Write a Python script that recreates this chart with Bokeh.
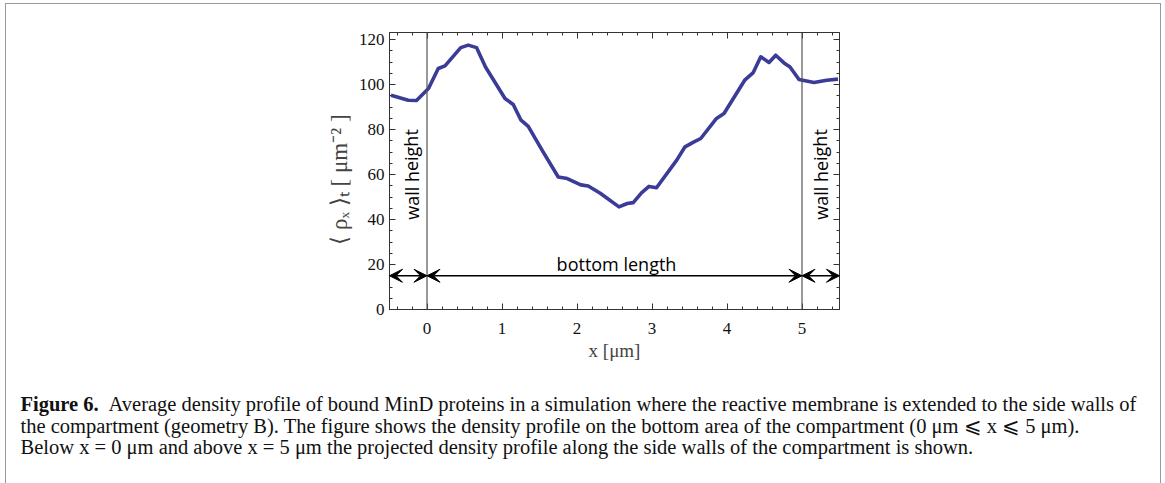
from bokeh.plotting import figure
from bokeh.layouts import column
from bokeh.models import (LinearAxis, Range1d, Label, Arrow, VeeHead, Span,
                          FixedTicker, ColumnDataSource)
from bokeh.embed import file_html
from bokeh.resources import INLINE

# ---- data ----
x_um = [-0.48, -0.25, -0.14, 0.02, 0.15, 0.24, 0.45, 0.55, 0.66, 0.78, 1.04, 1.15,
        1.25, 1.35, 1.54, 1.75, 1.87, 2.05, 2.15, 2.31, 2.56, 2.67, 2.75, 2.86,
        2.96, 3.06, 3.33, 3.44, 3.56, 3.65, 3.86, 3.96, 4.24, 4.35, 4.45, 4.56,
        4.65, 4.76, 4.84, 4.96, 5.16, 5.33, 5.48]
density = [95.2, 93.0, 92.9, 98.2, 107.1, 108.3, 116.4, 117.5, 116.4, 107.8, 93.8, 91.1,
           84.3, 81.4, 70.5, 58.9, 58.2, 55.4, 54.9, 51.7, 45.6, 47.1, 47.5, 51.8,
           54.7, 54.1, 66.4, 72.3, 74.5, 76.0, 84.9, 87.1, 102.1, 105.3, 112.3, 109.8,
           113.0, 109.6, 107.8, 102.2, 100.9, 101.9, 102.4]

x_ticks = [0, 1, 2, 3, 4, 5]
x_minor = [round(-0.4 + 0.2 * i, 1) for i in range(30)]
y_ticks = [0, 20, 40, 60, 80, 100, 120]
y_minor = list(range(0, 125, 5))
wall_x = [0, 5]
arrow_x0 = [-0.5, 0, 5]
arrow_x1 = [0, 5, 5.5]
arrow_y = [15, 15, 15]
wall_label = "wall height"
bottom_label = "bottom length"
x_title = "x [μm]"
y_title = "⟨ ρₓ ⟩ₜ    [ μm⁻² ]"
caption_bold = "Figure 6."
caption_lines = [
    "Average density profile of bound MinD proteins in a simulation where the reactive membrane is extended to the side walls of",
    "the compartment (geometry B). The figure shows the density profile on the bottom area of the compartment (0 μm ⩽ x ⩽ 5 μm).",
    "Below x = 0 μm and above x = 5 μm the projected density profile along the side walls of the compartment is shown.",
]

# page geometry (content box starts at page x=6, y=4 because of margin+border)
OX, OY = 6, 4
CW = 1154
TOP_H = 380
CAP_H = 483 - OY - TOP_H
FL, FR, FT, FB = 389 - OX, 839 - OX, 32 - OY, 309 - OY

xr = Range1d(-0.5, 5.5)
yr = Range1d(0, (FB - FT) / 2.25)

p = figure(width=CW, height=TOP_H, x_range=xr, y_range=yr, output_backend="svg",
           toolbar_location=None, min_border_left=FL, min_border_right=CW - FR,
           min_border_top=FT, min_border_bottom=TOP_H - FB, x_axis_location=None,
           y_axis_location=None)
p.frame_align = False
p.grid.visible = False
p.outline_line_color = "#333333"
p.background_fill_color = "white"
p.border_fill_color = "white"


def px2x(px):
    return -0.5 + (px - OX - FL) / 75.0


def py2y(py):
    return (FB - (py - OY)) / 2.25


serif = "Liberation Serif"


def style_axis(ax):
    ax.axis_line_color = "#333333"
    ax.major_tick_line_color = "#333333"
    ax.minor_tick_line_color = "#333333"
    ax.major_tick_in = 6
    ax.major_tick_out = 0
    ax.minor_tick_in = 3
    ax.minor_tick_out = 0
    ax.major_label_text_font = serif
    ax.major_label_text_font_size = "17px"
    ax.major_label_text_color = "#111111"


bx = LinearAxis(ticker=FixedTicker(ticks=x_ticks, minor_ticks=x_minor), axis_label=x_title)
style_axis(bx)
bx.major_label_standoff = 13
bx.axis_label_text_font = serif
bx.axis_label_text_font_style = "normal"
bx.axis_label_text_font_size = "19px"
bx.axis_label_standoff = 3
p.add_layout(bx, "below")

ly = LinearAxis(ticker=FixedTicker(ticks=y_ticks, minor_ticks=y_minor), axis_label=y_title)
style_axis(ly)
ly.major_label_standoff = 5
ly.axis_label_text_font = serif
ly.axis_label_text_font_style = "normal"
ly.axis_label_text_font_size = "23px"
ly.axis_label_standoff = 4
p.add_layout(ly, "left")

tx = LinearAxis(ticker=FixedTicker(ticks=x_ticks, minor_ticks=x_minor),
                major_label_overrides={t: "" for t in x_ticks})
style_axis(tx)
p.add_layout(tx, "above")

ry = LinearAxis(ticker=FixedTicker(ticks=y_ticks, minor_ticks=y_minor),
                major_label_overrides={t: "" for t in y_ticks})
style_axis(ry)
p.add_layout(ry, "right")

for wx in wall_x:
    p.add_layout(Span(location=wx, dimension="height", line_color="#555555", line_width=1.2))

p.line(x_um, density, line_color="#3b3b98", line_width=3.6, line_join="round")

asrc = ColumnDataSource(dict(x0=arrow_x0, x1=arrow_x1, y=arrow_y))
p.add_layout(Arrow(source=asrc, x_start="x0", y_start="y", x_end="x1", y_end="y",
                   line_color="black", line_width=1.6,
                   start=VeeHead(size=13, fill_color="black", line_color="black", line_width=1),
                   end=VeeHead(size=13, fill_color="black", line_color="black", line_width=1)))

sans = "Open Sans"
for cx in (411, 820):
    p.add_layout(Label(x=px2x(cx), y=py2y(174), text=wall_label, angle=1.5708,
                       text_align="center", text_baseline="middle", text_font=sans,
                       text_font_size="18px", text_color="black"))
p.add_layout(Label(x=px2x(616), y=py2y(263), text=bottom_label, text_align="center",
                   text_baseline="alphabetic", text_font=sans, text_font_size="18px",
                   text_color="black"))

# ---- caption panel ----
cap = figure(width=CW, height=CAP_H, x_range=Range1d(0, CW), y_range=Range1d(CAP_H, 0),
             output_backend="svg", toolbar_location=None, min_border=0,
             x_axis_location=None, y_axis_location=None)
cap.frame_align = False
cap.grid.visible = False
cap.outline_line_color = None
cap.background_fill_color = "white"
cap.border_fill_color = "white"

Y0 = OY + TOP_H
CAP_FS = "20.5px"
cap.add_layout(Label(x=20 - OX, y=403 - Y0, text=caption_bold, text_font=serif,
                     text_font_style="bold", text_font_size=CAP_FS,
                     text_baseline="alphabetic", text_color="#111111"))
starts = [108, 20, 20]
bases = [403, 425, 446]
for line, sx, by in zip(caption_lines, starts, bases):
    cap.add_layout(Label(x=sx - OX, y=by - Y0, text=line, text_font=serif,
                         text_font_size=CAP_FS, text_baseline="alphabetic",
                         text_color="#111111"))

layout = column(p, cap, spacing=0,
                styles={"margin-left": "5px", "margin-top": "3px",
                        "border-left": "1px solid #9a9a9a",
                        "border-right": "1px solid #9a9a9a",
                        "border-top": "1px solid #9a9a9a"})

open("out.html", "w").write(file_html(layout, INLINE))
